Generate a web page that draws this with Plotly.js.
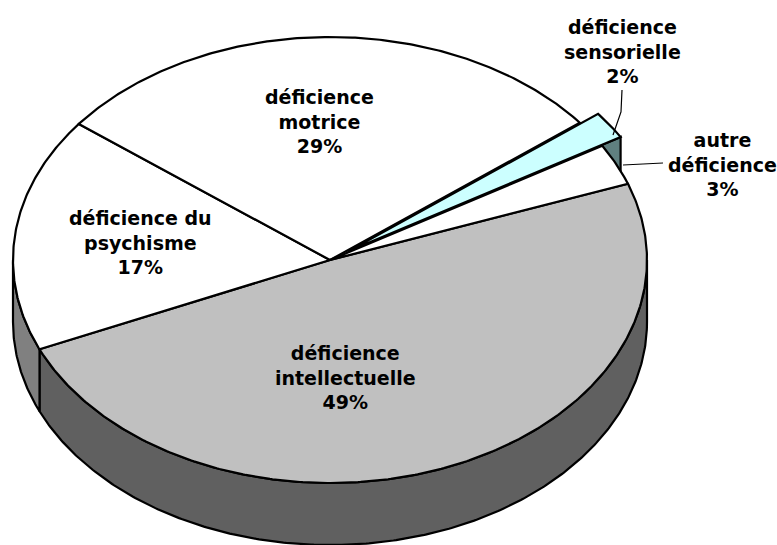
<!DOCTYPE html>
<html>
<head>
<meta charset="utf-8">
<script src="https://cdn.plot.ly/plotly-3.0.1.min.js"></script>
<style>
  html, body { margin: 0; padding: 0; background: #ffffff; }
  #chart { width: 777px; height: 545px; }
</style>
</head>
<body>
<div id="chart"></div>
<script>
// Répartition des personnes selon la déficience principale
const categories = ['déficience intellectuelle', 'déficience du psychisme', 'déficience motrice', 'déficience sensorielle', 'autre déficience'];
const shares = [49, 17, 29, 2, 3];
const labelLines = [
  ['déficience', 'intellectuelle'],
  ['déficience du', 'psychisme'],
  ['déficience', 'motrice'],
  ['déficience', 'sensorielle'],
  ['autre', 'déficience']
];

// Styling of the tilted pie
const topColors  = ['#c0c0c0', '#ffffff', '#ffffff', '#ccffff', '#ffffff'];
const sideColors = ['#606060', '#808080', '#808080', '#608080', '#808080'];
const explodeBy  = [0, 0, 0, 0.07, 0];
const labelPos   = [[345, 377], [140, 242], [319, 121], [622, 51], [722, 164]];

// Ellipse geometry (plot units equal pixels)
const cx = 330, cy = 260, rx = 317, ry = 223, depth = 62;
const startDeg = -20;

function pt(t, ox, oy, dz) {
  const r = t * Math.PI / 180;
  return [cx + ox + rx * Math.cos(r), cy + oy + ry * Math.sin(r) + dz];
}
function arc(a, b, ox, oy, dz) {
  const n = Math.max(2, Math.ceil(Math.abs(b - a) * 2));
  const out = [];
  for (let k = 0; k <= n; k++) out.push(pt(a + (b - a) * k / n, ox, oy, dz));
  return out;
}
function polyTrace(points, fill) {
  const xs = points.map(p => p[0]);
  const ys = points.map(p => p[1]);
  xs.push(xs[0]); ys.push(ys[0]);
  return {
    type: 'scatter', mode: 'lines', x: xs, y: ys, fill: 'toself',
    fillcolor: fill, line: { color: '#000000', width: 2.2 },
    hoverinfo: 'skip', showlegend: false
  };
}

const total = shares.reduce((s, v) => s + v, 0);
const slices = [];
let acc = startDeg;
shares.forEach((v, i) => {
  const a = acc, b = acc + v / total * 360;
  acc = b;
  const m = (a + b) / 2 * Math.PI / 180;
  const ox = explodeBy[i] * rx * Math.cos(m);
  const oy = explodeBy[i] * ry * Math.sin(m);
  slices.push({ i, a, b, ox, oy });
});

const walls = [], ends = [], tops = [], raised = [];
slices.forEach(s => {
  // outer wall: only the front half of the rim faces the viewer
  [[0, 180], [360, 540]].forEach(([lo, hi]) => {
    const a = Math.max(s.a, lo), b = Math.min(s.b, hi);
    if (b > a) {
      const upper = arc(a, b, s.ox, s.oy, 0);
      const lower = arc(b, a, s.ox, s.oy, depth);
      walls.push(polyTrace(upper.concat(lower), sideColors[s.i]));
    }
  });
  const face = [[cx + s.ox, cy + s.oy]].concat(arc(s.a, s.b, s.ox, s.oy, 0));
  if (explodeBy[s.i] > 0) {
    // the cut face at the clockwise edge of a pulled-out slice
    const o = pt(s.b, s.ox, s.oy, 0);
    ends.push(polyTrace([[cx + s.ox, cy + s.oy], o, [o[0], o[1] + depth], [cx + s.ox, cy + s.oy + depth]], sideColors[s.i]));
    raised.push(polyTrace(face, topColors[s.i]));
  } else {
    tops.push(polyTrace(face, topColors[s.i]));
  }
});

const traces = walls.concat(ends, tops, raised);

const annotations = slices.map(s => ({
  x: labelPos[s.i][0], y: labelPos[s.i][1], xref: 'x', yref: 'y',
  text: labelLines[s.i].join('<br>') + '<br>' + shares[s.i] + '%',
  showarrow: false, align: 'center', xanchor: 'center', yanchor: 'middle',
  font: { family: 'DejaVu Sans, Verdana, sans-serif', size: 19, color: '#000000', weight: 'bold' }
}));

// leader lines for the two thin slices
const shapes = [
  { type: 'path', xref: 'x', yref: 'y', path: 'M622,90 L621,112 L613,135', line: { color: '#000000', width: 1.2 } },
  { type: 'path', xref: 'x', yref: 'y', path: 'M623,165 L663,163', line: { color: '#000000', width: 1.2 } }
];

const layout = {
  width: 777, height: 545,
  margin: { l: 0, r: 0, t: 0, b: 0 },
  paper_bgcolor: '#ffffff', plot_bgcolor: '#ffffff',
  xaxis: { range: [0, 777], visible: false, fixedrange: true },
  yaxis: { range: [545, 0], visible: false, fixedrange: true },
  showlegend: false,
  annotations: annotations,
  shapes: shapes
};

Plotly.newPlot('chart', traces, layout, { staticPlot: true, displayModeBar: false });
</script>
</body>
</html>
